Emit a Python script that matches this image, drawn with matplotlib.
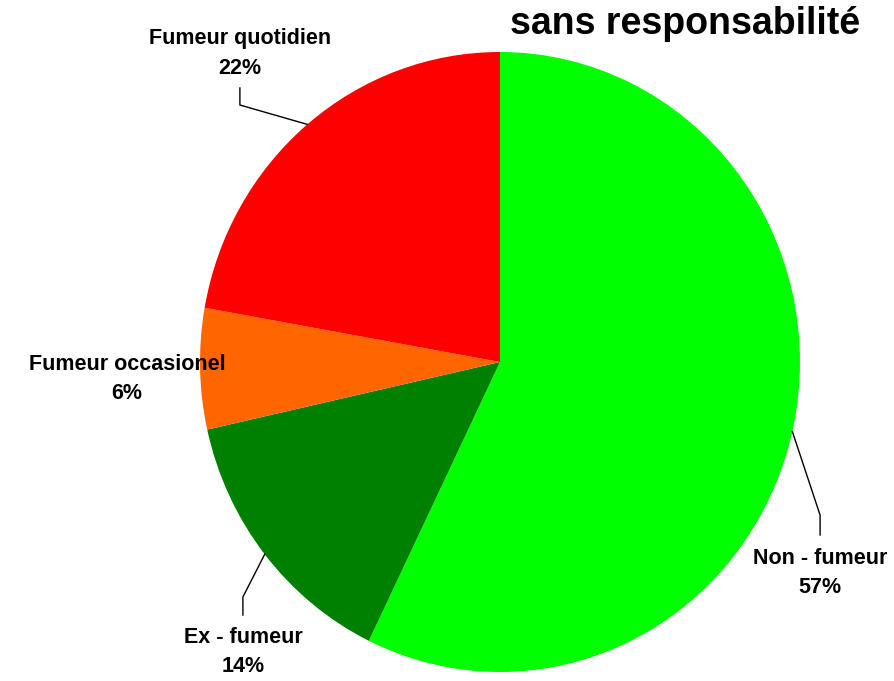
import matplotlib.pyplot as plt
import numpy as np

plt.rcParams['font.family'] = ['Liberation Sans', 'DejaVu Sans']

labels = ['Non - fumeur', 'Ex - fumeur', 'Fumeur occasionel', 'Fumeur quotidien']
values = [57.2, 14.3, 6.3, 22.2]
colors = ['#00FF00', '#008000', '#FF6600', '#FF0000']

fig = plt.figure(figsize=(8.95, 6.81), dpi=100)
ax = fig.add_axes([0, 0, 1, 1])

# pie drawn clockwise from 12 o'clock
ax.pie(values, colors=colors, startangle=90, counterclock=False,
       wedgeprops={'linewidth': 0})
ax.set_aspect('auto')
# figure pixels -> data: x=(px-500)/300, y=(362-py)/310
ax.set_xlim(-500 / 300, 395 / 300)
ax.set_ylim(-319 / 310, 362 / 310)
ax.axis('off')

pct = np.array(values) / sum(values) * 100
mid = np.cumsum(pct) - pct / 2
theta = np.deg2rad(90 - mid * 3.6)

# label placement: (elbow, line end, text position); None = no leader line
place = [
    ((1.067, -0.494), (1.067, -0.558), (1.067, -0.68)),
    ((-0.857, -0.758), (-0.857, -0.816), (-0.857, -0.935)),
    (None, None, (-1.243, -0.055)),
    ((-0.867, 0.829), (-0.867, 0.884), (-0.867, 0.995)),
]

for i, (elbow, end, txt) in enumerate(place):
    if elbow is not None:
        ex, ey = np.cos(theta[i]), np.sin(theta[i])
        ax.plot([ex, elbow[0], end[0]], [ey, elbow[1], end[1]],
                color='black', lw=1, clip_on=False)
    ax.text(txt[0], txt[1], f"{labels[i]}\n{values[i]:.0f}%",
            ha='center', va='center', fontsize=15.5, fontweight='bold',
            linespacing=1.52)

fig.text(510 / 895, 1 - 34 / 681, 'sans responsabilité', ha='left',
         va='baseline', fontsize=27, fontweight='bold')

fig.savefig('out.png', dpi=100)
